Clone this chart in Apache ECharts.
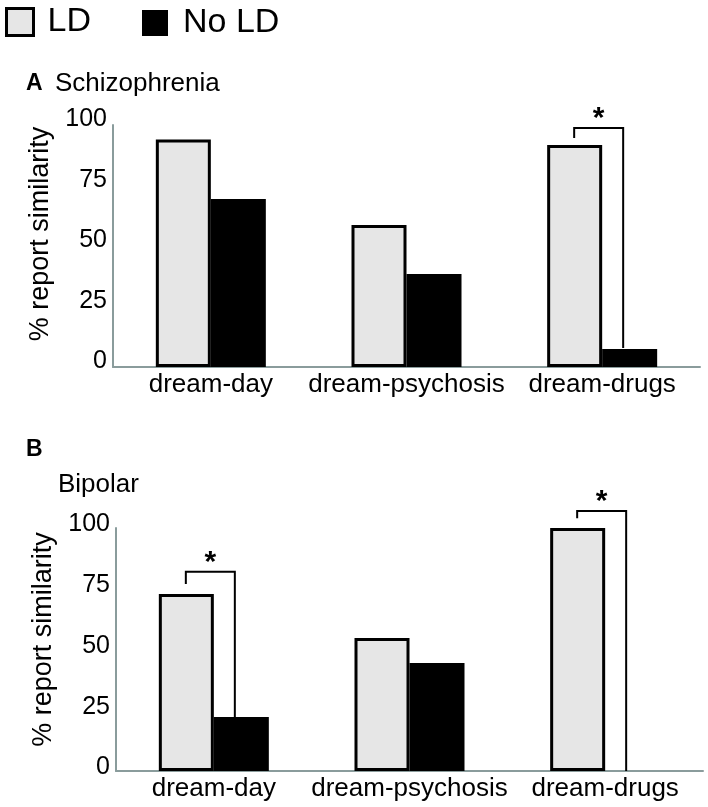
<!DOCTYPE html>
<html><head><meta charset="utf-8">
<script src="https://cdn.jsdelivr.net/npm/echarts@6/dist/echarts.min.js"></script>
<style>html,body{margin:0;padding:0;background:#fff}#c{width:708px;height:807px}</style>
</head><body><div id="c"></div>
<script>
const categories = ['dream-day', 'dream-psychosis', 'dream-drugs'];
const seriesNames = ['LD', 'No LD'];
const schizLD = [94, 58.7, 91.7];
const schizNoLD = [69.4, 38.4, 7.4];
const bipolarLD = [72.8, 54.7, 100];
const bipolarNoLD = [22.2, 44.4, 0];
const yMin = 0, yMax = 100, yStep = 25;
// significance brackets: [category index, left leg end, bracket top, right leg end]
const schizBrackets = [[2, 94.6, 98.8, 7.9]];
const bipolarBrackets = [[0, 77, 82, 22.2], [2, 104, 107, 0]];

const FONT = 'Liberation Sans, Arial, sans-serif';
const axisColor = '#8a9c9c';

function xAxisFor(gi) {
  return {
    type: 'category', gridIndex: gi, data: categories,
    axisLine: { lineStyle: { color: axisColor, width: 2 } },
    axisTick: { show: false },
    axisLabel: { interval: 0, fontSize: 26, color: '#000', margin: 5, fontFamily: FONT }
  };
}
function yAxisFor(gi, lh, namePad) {
  return {
    type: 'value', gridIndex: gi, min: yMin, max: yMax, interval: yStep,
    splitLine: { show: false },
    axisLine: { show: true, lineStyle: { color: axisColor, width: 2 } },
    axisTick: { show: false },
    axisLabel: { fontSize: 25, color: '#000', margin: 6, fontFamily: FONT, verticalAlign: 'bottom', lineHeight: lh },
    name: '% report similarity', nameLocation: 'middle', nameGap: 54,
    nameTextStyle: { fontSize: 27, color: '#000', fontFamily: FONT, padding: [0, 0, 0, namePad] }
  };
}
const ldStyle = { color: '#e6e6e6', borderColor: '#000', borderWidth: 3 };
const noStyle = { color: '#000' };

function bracketRender(params, api) {
  const c = api.coord([api.value(0), api.value(2)]);
  const l = api.coord([api.value(0), api.value(1)]);
  const r = api.coord([api.value(0), api.value(3)]);
  const xl = c[0] - 28, xr = c[0] + 21;
  return {
    type: 'group', children: [
      { type: 'polyline', shape: { points: [[xl, l[1]], [xl, c[1]], [xr, c[1]], [xr, r[1]]] },
        style: { stroke: '#000', lineWidth: 2, fill: null } },
      { type: 'text', style: { text: '*', x: (xl + xr) / 2, y: c[1] + 6, align: 'center', verticalAlign: 'bottom',
        fontSize: 30, fontWeight: 'bold', fill: '#000', fontFamily: FONT } }
    ]
  };
}

const chart = echarts.init(document.getElementById('c'));
chart.setOption({
  backgroundColor: '#fff',
  animation: false,
  textStyle: { fontFamily: FONT },
  title: [
    { text: 'A', left: 26, top: 72, padding: 0, textStyle: { fontSize: 23, fontWeight: 'bold', color: '#000', fontFamily: FONT } },
    { text: 'Schizophrenia', left: 55, top: 71, padding: 0, textStyle: { fontSize: 26, fontWeight: 'normal', color: '#000', fontFamily: FONT } },
    { text: 'B', left: 26, top: 438, padding: 0, textStyle: { fontSize: 23, fontWeight: 'bold', color: '#000', fontFamily: FONT } },
    { text: 'Bipolar', left: 58, top: 472, padding: 0, textStyle: { fontSize: 26, fontWeight: 'normal', color: '#000', fontFamily: FONT } }
  ],
  legend: [
    { data: [{ name: seriesNames[0], icon: 'rect', itemStyle: { color: '#e6e6e6', borderColor: '#000', borderWidth: 3 } }],
      left: 5, top: 5, padding: 0, itemWidth: 27, itemHeight: 27, selectedMode: false,
      textStyle: { fontSize: 34, color: '#000', fontFamily: FONT, padding: [0, 0, 0, 9] } },
    { data: [{ name: seriesNames[1], icon: 'rect', itemStyle: { color: '#000' } }],
      left: 142, top: 6, padding: 0, itemWidth: 26, itemHeight: 26, selectedMode: false,
      textStyle: { fontSize: 34, color: '#000', fontFamily: FONT, padding: [0, 0, 0, 10] } }
  ],
  grid: [
    { left: 113, top: 125, width: 587, height: 242 },
    { left: 116, top: 528, width: 587, height: 243 }
  ],
  xAxis: [xAxisFor(0), xAxisFor(1)],
  yAxis: [yAxisFor(0, 11, 24), yAxisFor(1, 7, 20)],
  series: [
    { name: seriesNames[0], type: 'bar', xAxisIndex: 0, yAxisIndex: 0, data: schizLD, barWidth: 55, barGap: '0%', itemStyle: ldStyle },
    { name: seriesNames[1], type: 'bar', xAxisIndex: 0, yAxisIndex: 0, data: schizNoLD, barWidth: 55, barGap: '0%', itemStyle: noStyle },
    { name: seriesNames[0], type: 'bar', xAxisIndex: 1, yAxisIndex: 1, data: bipolarLD, barWidth: 55, barGap: '0%', itemStyle: ldStyle },
    { name: seriesNames[1], type: 'bar', xAxisIndex: 1, yAxisIndex: 1, data: bipolarNoLD, barWidth: 55, barGap: '0%', itemStyle: noStyle },
    { type: 'custom', name: 'sigA', xAxisIndex: 0, yAxisIndex: 0, data: schizBrackets, renderItem: bracketRender,
      encode: { x: 0, y: [1, 2, 3] }, clip: false, silent: true, z: 5 },
    { type: 'custom', name: 'sigB', xAxisIndex: 1, yAxisIndex: 1, data: bipolarBrackets, renderItem: bracketRender,
      encode: { x: 0, y: [1, 2, 3] }, clip: false, silent: true, z: 5 }
  ]
});
</script>
</body></html>
